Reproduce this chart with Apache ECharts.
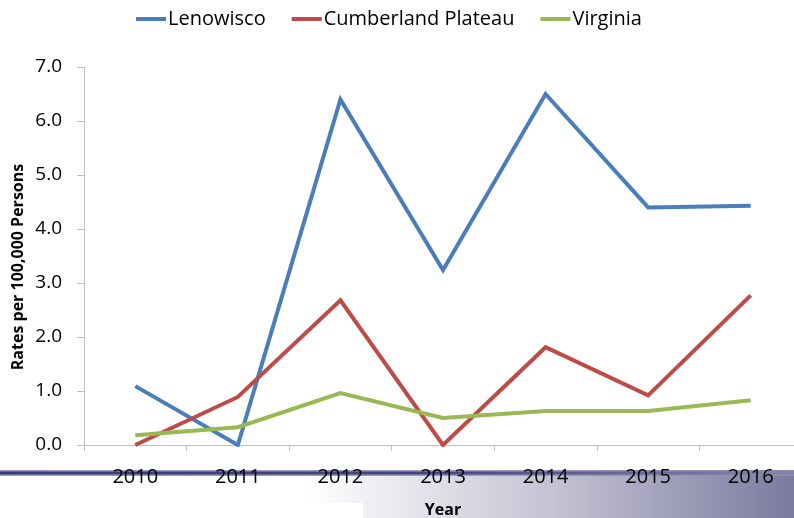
<!DOCTYPE html>
<html>
<head>
<meta charset="utf-8">
<script src="https://cdn.jsdelivr.net/npm/echarts@6/dist/echarts.min.js"></script>
<style>
  html, body { margin: 0; padding: 0; background: #fff; }
  #chart { width: 794px; height: 518px; }
</style>
</head>
<body>
<div id="chart"></div>
<script>
// Drug rates per 100,000 persons, by year
const years = ['2010', '2011', '2012', '2013', '2014', '2015', '2016'];
const lenowisco = [1.09, 0.0, 6.40, 3.24, 6.50, 4.40, 4.43];
const cumberlandPlateau = [0.0, 0.89, 2.68, 0.0, 1.81, 0.92, 2.77];
const virginia = [0.18, 0.33, 0.96, 0.50, 0.63, 0.63, 0.83];
const yTicks = { min: 0, max: 7, interval: 1 };

const FONT = '"Open Sans", "Noto Sans", sans-serif';

const chart = echarts.init(document.getElementById('chart'), null, { renderer: 'canvas' });

function lineSeries(name, data, color) {
  return {
    name: name,
    type: 'line',
    data: data,
    symbol: 'none',
    smooth: false,
    lineStyle: { color: color, width: 4, join: 'miter' },
    itemStyle: { color: color },
    z: 3
  };
}

chart.setOption({
  animation: false,
  textStyle: { fontFamily: FONT },
  graphic: [
    // footer band of the slide
    {
      type: 'rect', z: -10, silent: true,
      shape: { x: 305, y: 474, width: 489, height: 44 },
      style: {
        fill: new echarts.graphic.LinearGradient(0, 0, 1, 0, [
          { offset: 0, color: '#ffffff' },
          { offset: 0.5, color: '#c4c4d4' },
          { offset: 1, color: '#7b7aa0' }
        ])
      }
    },
    {
      type: 'rect', z: -9, silent: true,
      shape: { x: 0, y: 503, width: 363, height: 15 },
      style: { fill: '#ffffff' }
    },
    {
      type: 'rect', z: -8, silent: true,
      shape: { x: 0, y: 470, width: 794, height: 6 },
      style: {
        fill: new echarts.graphic.LinearGradient(0, 0, 1, 0, [
          { offset: 0, color: '#9a9ac0' },
          { offset: 0.6, color: '#9a9ac0' },
          { offset: 1, color: '#8a8aae' }
        ])
      }
    },
    {
      type: 'rect', z: -7, silent: true,
      shape: { x: 0, y: 471.5, width: 794, height: 3 },
      style: {
        fill: new echarts.graphic.LinearGradient(0, 0, 1, 0, [
          { offset: 0, color: '#383a78' },
          { offset: 0.55, color: '#45477f' },
          { offset: 1, color: '#8585aa' }
        ])
      }
    },
    // y-axis title
    {
      type: 'text', z: 5, silent: true,
      x: 18, y: 267, rotation: Math.PI / 2,
      style: {
        text: 'Rates per 100,000 Persons',
        font: 'bold 16px ' + FONT,
        fill: '#000',
        align: 'center',
        verticalAlign: 'middle'
      }
    }
  ],
  legend: {
    top: 4,
    left: 131,
    itemWidth: 30,
    itemHeight: 4,
    itemGap: 26,
    icon: 'rect',
    textStyle: { fontSize: 20, color: '#000', fontFamily: FONT, padding: [0, 0, 0, -3] },
    data: ['Lenowisco', 'Cumberland Plateau', 'Virginia']
  },
  grid: { left: 84, right: -8, top: 67, bottom: 73, outerBoundsMode: 'none' },
  xAxis: {
    type: 'category',
    data: years,
    boundaryGap: true,
    name: 'Year',
    nameLocation: 'middle',
    nameGap: 57,
    nameTextStyle: { fontSize: 16, fontWeight: 'bold', color: '#000', fontFamily: FONT },
    axisLine: { lineStyle: { color: '#c0c0c0', width: 1 } },
    axisTick: { show: true, length: 6, lineStyle: { color: '#c0c0c0' } },
    axisLabel: { fontSize: 20, color: '#000', margin: 22, fontFamily: FONT },
    splitLine: { show: false }
  },
  yAxis: {
    type: 'value',
    min: yTicks.min,
    max: yTicks.max,
    interval: yTicks.interval,
    axisLine: { show: true, lineStyle: { color: '#c0c0c0', width: 1 } },
    axisTick: { show: true, length: 7, lineStyle: { color: '#c0c0c0' } },
    axisLabel: {
      fontSize: 19, color: '#000', margin: 22, fontFamily: FONT,
      formatter: v => v.toFixed(1)
    },
    splitLine: { show: false }
  },
  series: [
    lineSeries('Lenowisco', lenowisco, '#4a7ebb'),
    lineSeries('Cumberland Plateau', cumberlandPlateau, '#be4b48'),
    lineSeries('Virginia', virginia, '#98b954')
  ]
});
</script>
</body>
</html>
